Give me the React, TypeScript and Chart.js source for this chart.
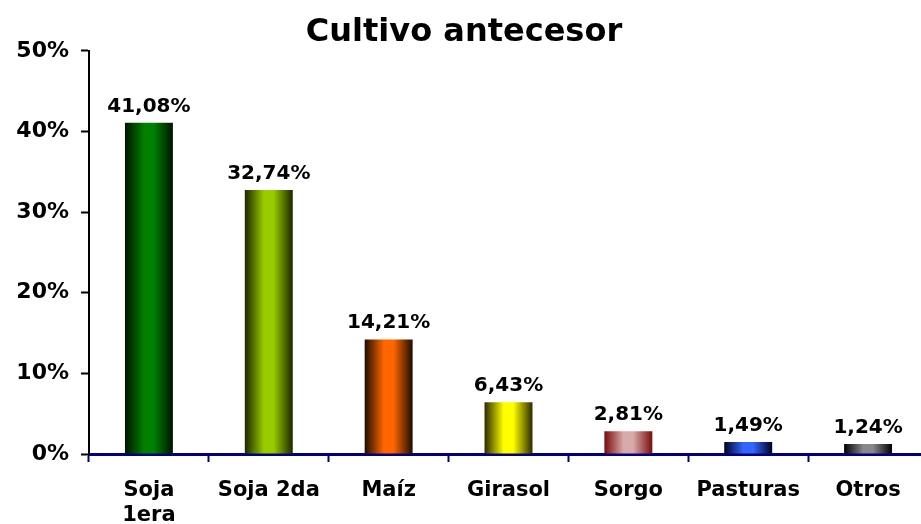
import { useEffect, useRef } from "react";
import { Chart, registerables } from "chart.js";

Chart.register(...registerables);

const categories: (string | string[])[] = [["Soja", "1era"], "Soja 2da", "Maíz", "Girasol", "Sorgo", "Pasturas", "Otros"];
const values = [41.08, 32.74, 14.21, 6.43, 2.81, 1.49, 1.24];
const valueLabels = ["41,08%", "32,74%", "14,21%", "6,43%", "2,81%", "1,49%", "1,24%"];
const midColors = ["#008000", "#99CC00", "#FF6600", "#FFFF00", "#D9AAAA", "#3366FF", "#888888"];
const edgeColors = ["#001400", "#1C2600", "#1E0C00", "#2A2A00", "#7A0A0A", "#000022", "#000000"];
const yTickValues = [0, 10, 20, 30, 40, 50];

const FONT = "'DejaVu Sans', Verdana, sans-serif";
const BAR_FRACTION = 0.4;

export default function App() {
  const ref = useRef<HTMLCanvasElement>(null);

  useEffect(() => {
    document.body.style.margin = "0";
    document.body.style.overflow = "hidden";
    const canvas = ref.current!;

    const labelPlugin = {
      id: "valueLabels",
      afterDatasetsDraw(chart: any) {
        const c = chart.ctx;
        const meta = chart.getDatasetMeta(0);
        c.save();
        c.font = `bold 20px ${FONT}`;
        c.fillStyle = "#000";
        c.textAlign = "center";
        c.textBaseline = "alphabetic";
        meta.data.forEach((el: any, i: number) => {
          c.fillText(valueLabels[i], el.x, el.y - 11);
        });
        c.restore();
      },
    };

    const chart = new Chart(canvas, {
      type: "bar",
      data: {
        labels: categories,
        datasets: [
          {
            data: values,
            categoryPercentage: 1,
            barPercentage: BAR_FRACTION,
            borderWidth: 0,
            backgroundColor: (ctx: any) => {
              const chart = ctx.chart;
              const xs = chart.scales?.x;
              const i = ctx.dataIndex;
              if (!xs || i == null || !chart.chartArea) return midColors[0];
              const cx = xs.getPixelForValue(i);
              const half = (xs.width / categories.length) * BAR_FRACTION / 2;
              const g = chart.ctx.createLinearGradient(cx - half, 0, cx + half, 0);
              g.addColorStop(0, edgeColors[i]);
              g.addColorStop(0.4, midColors[i]);
              g.addColorStop(0.6, midColors[i]);
              g.addColorStop(1, edgeColors[i]);
              return g;
            },
          },
        ],
      },
      options: {
        responsive: false,
        animation: false,
        layout: { padding: { left: 0, right: 7, top: 0, bottom: 0 } },
        plugins: {
          legend: { display: false },
          tooltip: { enabled: false },
          title: {
            display: true,
            text: "Cultivo antecesor",
            color: "#000",
            font: { family: FONT, size: 32, weight: "bold", lineHeight: 1.15 },
            padding: { top: 14, bottom: 0 },
          },
        },
        scales: {
          x: {
            grid: {
              drawOnChartArea: false,
              offset: true,
              tickLength: 8,
              tickWidth: 2,
              color: "#000080",
            },
            border: { color: "#000080", width: 3 },
            ticks: {
              color: "#000",
              font: { family: FONT, size: 21, weight: "bold" },
              maxRotation: 0,
              autoSkip: false,
              padding: 16,
            },
            afterFit: (s: any) => {
              s.height = 70;
            },
          },
          y: {
            min: 0,
            max: 50,
            afterBuildTicks: (s: any) => {
              s.ticks = yTickValues.map((v) => ({ value: v }));
            },
            grid: {
              drawOnChartArea: false,
              tickLength: 8,
              tickWidth: 2,
              color: "#000",
            },
            border: { color: "#000", width: 2 },
            ticks: {
              color: "#000",
              font: { family: FONT, size: 22, weight: "bold" },
              padding: 12,
              callback: (v: any) => v + "%",
            },
            afterFit: (s: any) => {
              s.width = 89;
            },
          },
        },
      },
      plugins: [labelPlugin],
    });
    return () => chart.destroy();
  }, []);

  return (
    <div style={{ position: "absolute", left: 0, top: 0, width: 935, height: 524, background: "#fff" }}>
      <canvas ref={ref} width={935} height={524} />
    </div>
  );
}
